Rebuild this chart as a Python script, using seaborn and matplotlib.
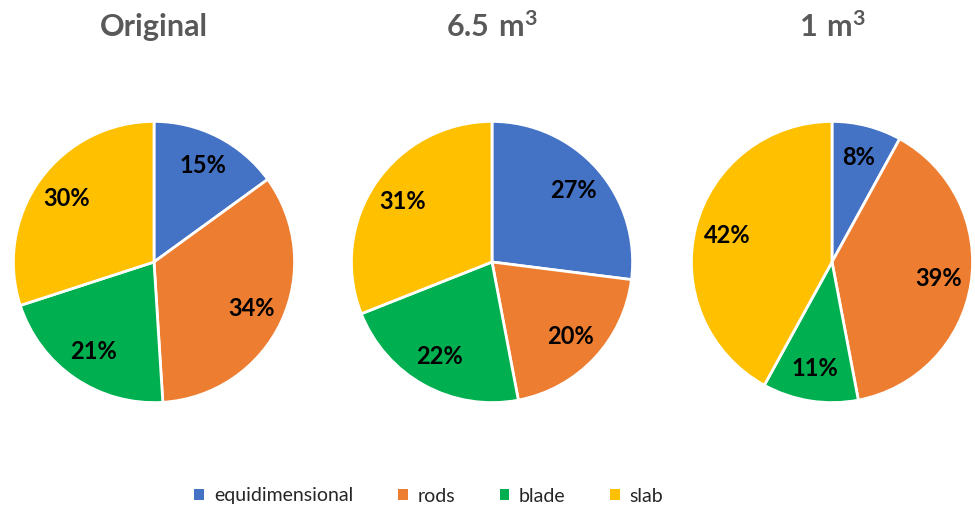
import matplotlib
matplotlib.use("Agg")
import matplotlib.pyplot as plt
from matplotlib.patches import Patch
import numpy as np
import seaborn as sns

sns.set_theme(style="white")
plt.rcParams["font.family"] = ["Lato", "DejaVu Sans"]
plt.rcParams["mathtext.fontset"] = "custom"
plt.rcParams["mathtext.rm"] = "Lato"
plt.rcParams["mathtext.bf"] = "Lato:bold"

categories = ["equidimensional", "rods", "blade", "slab"]
titles = ["Original", r"$\mathbf{6.5\ m^{3}}$", r"$\mathbf{1\ m^{3}}$"]
original = [15, 34, 21, 30]
vol_6_5 = [27, 20, 22, 31]
vol_1 = [8, 39, 11, 42]
series = [original, vol_6_5, vol_1]
colors = ["#4472C4", "#ED7D31", "#00B050", "#FFC000"]

W, H = 975, 512
fig = plt.figure(figsize=(W / 100, H / 100), dpi=100)

centers_x = [154, 492, 832]
center_y = 262
radius = 142
title_y = 27

for cx, vals, title in zip(centers_x, series, titles):
    left = (cx - radius) / W
    bottom = (H - center_y - radius) / H
    ax = fig.add_axes([left, bottom, 2 * radius / W, 2 * radius / H])
    ax.pie(vals, colors=colors, startangle=90, counterclock=False,
           wedgeprops=dict(edgecolor="white", linewidth=2))
    total = sum(vals)
    start = 90.0
    for v in vals:
        ang = np.radians(start - 360.0 * v / total / 2)
        r = 0.77
        ax.text(r * np.cos(ang), r * np.sin(ang), f"{v}%",
                ha="center", va="center", fontsize=17,
                fontweight="bold", color="black")
        start -= 360.0 * v / total
    ax.set_xlim(-1.01, 1.01)
    ax.set_ylim(-1.01, 1.01)
    ax.set_aspect("auto")
    ax.axis("off")
    fig.text(cx / W, 1 - title_y / H, title, ha="center", va="center",
             fontsize=22, fontweight="bold", color="#595959")

handles = [Patch(facecolor=c, edgecolor="none") for c in colors]
fig.legend(handles, categories, loc="center", bbox_to_anchor=(0.44, 1 - 496 / H),
           ncol=4, frameon=False, fontsize=14, handlelength=0.5,
           handleheight=0.5, handletextpad=0.5, columnspacing=2.3)

fig.savefig("out.png", dpi=100, facecolor="white")
